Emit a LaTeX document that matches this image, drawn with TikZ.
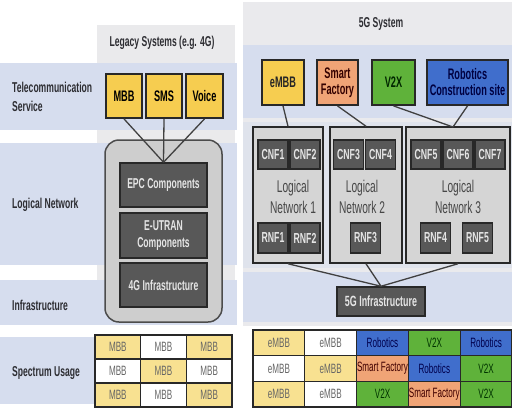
\documentclass[tikz,border=0pt]{standalone}
\usepackage{fontspec}
\setmainfont{Liberation Sans}[FakeStretch=0.6]
\definecolor{bandblue}{RGB}{214,221,238}
\definecolor{bandmid}{RGB}{223,227,236}
\definecolor{colgrey}{RGB}{234,234,236}
\definecolor{rightgrey}{RGB}{234,234,237}
\definecolor{svcyellow}{RGB}{246,205,80}
\definecolor{specyellow}{RGB}{248,225,145}
\definecolor{svcorange}{RGB}{240,164,118}
\definecolor{svcgreen}{RGB}{95,178,58}
\definecolor{svcblue}{RGB}{64,110,204}
\definecolor{compgrey}{RGB}{88,88,88}
\definecolor{contgrey}{RGB}{206,206,206}
\definecolor{lngrey}{RGB}{213,213,213}
\definecolor{edge}{RGB}{40,40,40}
\definecolor{labtext}{RGB}{45,45,50}
\begin{document}
\begin{tikzpicture}[x=1pt,y=-1pt,
  lbl/.style={anchor=west,align=left,text=labtext,font=\fontsize{14.3}{19}\selectfont\bfseries,inner sep=0},
  head/.style={text=labtext,font=\fontsize{14.3}{16}\selectfont\bfseries,inner sep=0},
  svc/.style={draw=edge,line width=1.8pt,align=center,inner sep=0,font=\fontsize{15.3}{16}\selectfont\bfseries},
  comp/.style={draw=edge,fill=compgrey,line width=1.5pt,align=center,inner sep=0,text=white!90!black,font=\fontsize{14.3}{17}\selectfont\bfseries},
  cont/.style={draw=black!70,fill=contgrey,line width=1.5pt,rounded corners=14pt,inner sep=0},
  lnbox/.style={draw=edge,fill=lngrey,line width=1.5pt,inner sep=0},
  lntext/.style={align=center,text=black!72,font=\fontsize{17}{21.5}\selectfont,inner sep=0},
  conn/.style={draw=black!75,line width=1.3pt},
  cell/.style={draw=edge,line width=1.2pt,inner sep=0,font=\fontsize{13.5}{15}\selectfont},
  cellY/.style={fill=specyellow,text=black!60},
  cellW/.style={fill=white,text=black!60},
  cellB/.style={fill=svcblue,text=blue!30!black},
  cellG/.style={fill=svcgreen,text=green!20!black},
  cellO/.style={fill=svcorange,text=red!25!black}]
\useasboundingbox (0,0) rectangle (512,408);
\fill[white] (0,0) rectangle (512,408);
% backgrounds
\fill[colgrey] (97,25) rectangle (235,325);
\fill[rightgrey] (243,2) rectangle (512,326);
\fill[bandblue] (0,63) rectangle (237,130);
\fill[bandblue] (0,143) rectangle (237,265);
\fill[bandblue] (0,280) rectangle (237,325);
\fill[bandblue] (0,337) rectangle (95,404);
\fill[bandblue] (243,45) rectangle (512,118);
\fill[bandmid] (243,122) rectangle (512,268);
\fill[bandblue] (243,272) rectangle (512,322);

% row labels
\node[lbl] (ltel) at (12,97) {Telecommunication\\Service};
\node[lbl] (llog) at (12,205) {Logical Network};
\node[lbl] (linf) at (12,305) {Infrastructure};
\node[lbl] (lspe) at (12,373) {Spectrum Usage};
\node[head] (hleg) at (162,43) {Legacy Systems (e.g. 4G)};
\node[head] (h5g) at (381,24) {5G System};

% legacy system
\node[svc,fill=svcyellow,minimum width=36pt,minimum height=44pt] (mbb) at (124,96) {MBB};
\node[svc,fill=svcyellow,minimum width=36pt,minimum height=44pt] (sms) at (164,96) {SMS};
\node[svc,fill=svcyellow,minimum width=37pt,minimum height=44pt] (voice) at (204.5,96) {Voice};
\node[cont,minimum width=117pt,minimum height=182pt] (legcont) at (163.5,231) {};
\node[comp,minimum width=87pt,minimum height=44pt] (epc) at (163.5,185) {EPC Components};
\node[comp,minimum width=87pt,minimum height=45pt] (eutran) at (163.5,235.5) {E-UTRAN\\Components};
\node[comp,minimum width=87pt,minimum height=44pt] (inf4g) at (163.5,285) {4G Infrastructure};
\draw[conn] (mbb.south) -- (epc.north);
\draw[conn] (sms.south) -- (epc.north);
\draw[conn] (voice.south) -- (epc.north);

% 5G services
\node[svc,fill=svcyellow,minimum width=42pt,minimum height=45pt,text=black!85] (embb) at (283,82.5) {eMBB};
\node[svc,fill=svcorange,minimum width=41pt,minimum height=45pt,text=red!20!black] (smart) at (337.5,82.5) {Smart\\Factory};
\node[svc,fill=svcgreen,minimum width=43pt,minimum height=45pt,text=green!15!black] (v2x) at (393.5,82.5) {V2X};
\node[svc,fill=svcblue,minimum width=81pt,minimum height=45pt,text=blue!25!black] (robot) at (467.5,82.5) {Robotics\\Construction site};

% logical networks
\node[lnbox,minimum width=70pt,minimum height=136pt] (ln1) at (288,195) {};
\node[lnbox,minimum width=72pt,minimum height=136pt] (ln2) at (366,195) {};
\node[lnbox,minimum width=104pt,minimum height=136pt] (ln3) at (458,195) {};
\coordinate (j3) at (453,127);
\draw[conn] (embb.south) -- (ln1.north);
\draw[conn] (smart.south) -- (ln2.north);
\draw[conn] (v2x.south) -- (j3);
\draw[conn] (robot.south) -- (j3);

\node[lntext] (t1) at (293,197) {Logical\\Network 1};
\node[lntext] (t2) at (362,197) {Logical\\Network 2};
\node[lntext] (t3) at (458,197) {Logical\\Network 3};

\foreach \n/\cx in {CNF1/273,CNF2/305,CNF3/348.5,CNF4/380.5,CNF5/426,CNF6/458,CNF7/490}
  \node[comp,minimum width=30pt,minimum height=29pt,font=\fontsize{14.5}{16}\selectfont\bfseries] (\n) at (\cx,154.5) {\n};
\foreach \n/\cx in {RNF1/273,RNF2/305,RNF3/365.5,RNF4/435.5,RNF5/477.5}
  \node[comp,minimum width=30pt,minimum height=30pt,font=\fontsize{14.5}{16}\selectfont\bfseries] (\n) at (\cx,238) {\n};

% 5G infrastructure
\node[comp,minimum width=88pt,minimum height=29pt,font=\fontsize{14.8}{16}\selectfont\bfseries] (inf5g) at (381,301.5) {5G Infrastructure};
\draw[conn] (ln1.south) -- (inf5g.north);
\draw[conn] (ln2.south) -- (inf5g.north);
\draw[conn] (ln3.south) -- (inf5g.north);

% spectrum usage legacy
\foreach \rr/\lst in {1/{Y,W,Y},2/{W,Y,W},3/{Y,W,Y}}
  \foreach [count=\cc] \k in \lst
    \node[cell,cell\k,minimum width=45.67pt,minimum height=24pt] (ls-\rr-\cc) at ({95+45.67*(\cc-0.5)},{335+24*(\rr-0.5)}) {MBB};

% spectrum usage 5G
\foreach \rr/\lst in {1/{Y/eMBB,W/eMBB,B/Robotics,G/V2X,B/Robotics},2/{W/eMBB,Y/eMBB,O/Smart Factory,B/Robotics,G/V2X},3/{Y/eMBB,W/eMBB,G/V2X,O/Smart Factory,G/V2X}}
  \foreach [count=\cc] \k/\t in \lst
    \node[cell,cell\k,minimum width=51.8pt,minimum height=25.67pt] (rs-\rr-\cc) at ({253+51.8*(\cc-0.5)},{330+25.67*(\rr-0.5)}) {\t};
\end{tikzpicture}
\end{document}
